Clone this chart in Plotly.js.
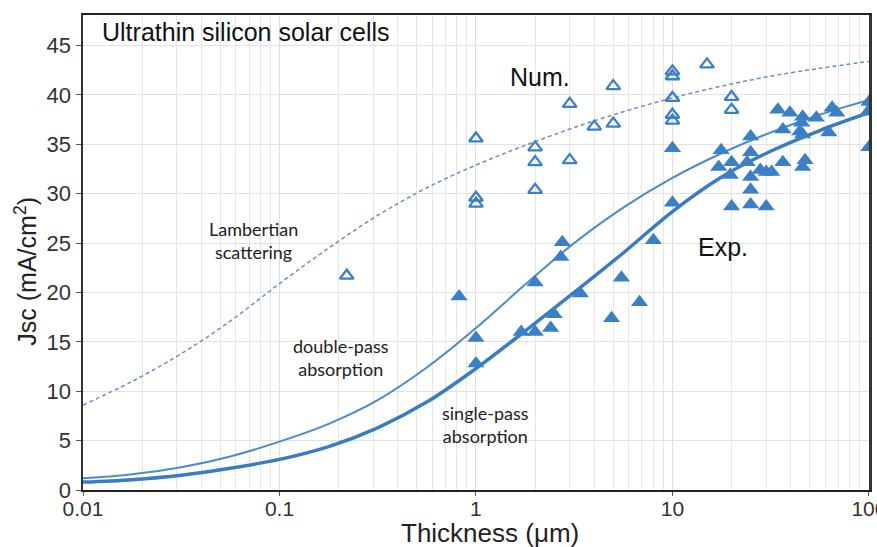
<!DOCTYPE html>
<html>
<head>
<meta charset="utf-8">
<script src="https://cdn.plot.ly/plotly-3.0.1.min.js"></script>
<style>html,body{margin:0;padding:0;background:#fff;}#chart{width:877px;height:547px;}</style>
</head>
<body>
<div id="chart"></div>
<script>
// Model curves (thickness in µm, Jsc in mA/cm^2), read at quarter-decade steps
const curveThickness = [0.01, 0.0178, 0.0316, 0.0562, 0.1, 0.178, 0.316, 0.562, 1, 1.78, 3.16, 5.62, 10, 17.8, 31.6, 56.2, 100];
const lambertian =     [8.6, 11.0, 13.8, 17.1, 20.9, 24.5, 27.8, 30.6, 32.9, 34.9, 36.7, 38.3, 39.7, 40.9, 41.9, 42.7, 43.4];
const doublePass =     [1.2, 1.6, 2.3, 3.4, 4.9, 6.7, 9.1, 12.4, 16.4, 20.8, 25.0, 28.6, 31.6, 34.1, 36.2, 38.0, 39.5];
const singlePass =     [0.8, 1.05, 1.5, 2.2, 3.1, 4.4, 6.3, 8.9, 12.3, 16.1, 20.0, 24.0, 28.2, 31.7, 34.3, 36.4, 38.2];

// Numerical results (open triangles)
const numThickness = [0.22, 1, 1, 1, 2, 2, 2, 3, 3, 4, 5, 5, 10, 10, 10, 10, 10, 15, 20, 20];
const numJsc =       [21.7, 35.6, 29.6, 29.0, 34.7, 33.2, 30.4, 39.1, 33.4, 36.8, 40.9, 37.1, 42.4, 41.9, 39.7, 38.0, 37.4, 43.1, 39.8, 38.5];

// Experimental results (filled triangles)
const expThickness = [0.82, 1, 1, 1.7, 2, 2, 2.4, 2.5, 2.7, 2.75, 3.4, 4.9, 5.5, 6.8, 8, 10, 10,
  17.7, 17.2, 20, 19.7, 20, 25, 25, 24, 25, 25, 25, 28, 30, 30, 32,
  34.4, 36.5, 36.5, 39.6, 46, 45.5, 44.5, 46, 47.3, 46, 54, 62.5, 65, 68.6, 100, 99, 100];
const expJsc = [19.6, 15.4, 12.8, 16.0, 16.0, 21.0, 16.4, 17.8, 23.6, 25.1, 19.9, 17.4, 21.5, 19.0, 25.3, 34.6, 29.1,
  34.4, 32.7, 33.2, 31.9, 28.7, 35.8, 34.2, 33.2, 31.7, 30.4, 28.9, 32.4, 28.7, 32.2, 32.2,
  38.5, 36.5, 33.2, 38.2, 37.8, 37.2, 36.3, 36.0, 33.4, 32.7, 37.7, 36.2, 38.7, 38.2, 39.3, 38.3, 34.7];

const xTickVals = [0.01, 0.1, 1, 10, 100];
const xTickText = ['0.01', '0.1', '1', '10', '100'];

const blue = '#3b7fc6';
const traces = [
  {x: curveThickness, y: lambertian, mode: 'lines', line: {color: '#6a90c0', width: 1.5, dash: '4px,3px', shape: 'spline'}},
  {x: curveThickness, y: doublePass, mode: 'lines', line: {color: '#4a8bcc', width: 2, shape: 'spline'}},
  {x: curveThickness, y: singlePass, mode: 'lines', line: {color: '#3a7cc3', width: 3.5, shape: 'spline'}},
  {x: numThickness, y: numJsc, mode: 'markers', marker: {symbol: 'triangle-up-open', size: 12, color: blue, line: {width: 2.3, color: blue}}},
  {x: expThickness, y: expJsc, mode: 'markers', marker: {symbol: 'triangle-up', size: 15, color: blue, line: {width: 0}}}
];

const sans = '"Liberation Sans", Arial, sans-serif';
const annFont = {family: 'Lato, "Open Sans", sans-serif', size: 18, color: '#222'};
const layout = {
  width: 877, height: 547,
  margin: {l: 83, r: 8, t: 15, b: 57},
  paper_bgcolor: '#fff', plot_bgcolor: '#fff',
  showlegend: false,
  font: {family: sans, color: '#333'},
  xaxis: {
    type: 'log', range: [-2, 2.0005],
    tickvals: xTickVals, ticktext: xTickText,
    tickfont: {size: 21, color: '#333'},
    ticklabeloverflow: 'allow',
    ticklabelstandoff: -5,
    ticks: 'outside', ticklen: 4, tickcolor: '#555',
    showgrid: true, gridcolor: '#dedede', gridwidth: 1,
    minor: {dtick: 'D1', showgrid: true, gridcolor: '#e6e6e6', gridwidth: 1, ticks: ''},
    showline: true, linecolor: '#222', linewidth: 2, mirror: true,
    zeroline: false
  },
  yaxis: {
    range: [0, 48.1], dtick: 5, tick0: 0,
    tickfont: {size: 22, color: '#333'},
    ticks: 'outside', ticklen: 5, tickcolor: '#555',
    showgrid: true, gridcolor: '#e2e2e2', gridwidth: 1,
    showline: true, linecolor: '#333', linewidth: 2.5, mirror: true,
    zeroline: false
  },
  annotations: [
    {xref: 'paper', yref: 'paper', x: -0.073, y: 0.461, xanchor: 'center', yanchor: 'middle', textangle: -90, showarrow: false,
     text: 'Jsc (mA/cm<sup>2</sup>)', font: {family: sans, size: 25, color: '#222'}},
    {xref: 'paper', yref: 'paper', x: 0.518, y: -0.09, xanchor: 'center', yanchor: 'middle', showarrow: false,
     text: 'Thickness (μm)', font: {family: sans, size: 26, color: '#222'}},
    {xref: 'paper', yref: 'paper', x: 0.021, y: 0.965, xanchor: 'left', yanchor: 'middle', showarrow: false,
     text: 'Ultrathin silicon solar cells', font: {family: sans, size: 25, color: '#111'}},
    {xref: 'x', yref: 'y', x: 0.326, y: 41.8, showarrow: false, text: 'Num.',
     font: {family: sans, size: 25, color: '#111'}},
    {xref: 'x', yref: 'y', x: 1.257, y: 24.6, showarrow: false, text: 'Exp.',
     font: {family: sans, size: 25, color: '#111'}},
    {xref: 'x', yref: 'y', x: -1.13, y: 25.3, showarrow: false, text: 'Lambertian<br>scattering', font: annFont},
    {xref: 'x', yref: 'y', x: -0.687, y: 13.4, showarrow: false, text: 'double-pass<br>absorption', font: annFont},
    {xref: 'x', yref: 'y', x: 0.051, y: 6.6, showarrow: false, text: 'single-pass<br>absorption', font: annFont}
  ]
};

Plotly.newPlot('chart', traces, layout, {displayModeBar: false, staticPlot: true});
</script>
</body>
</html>
